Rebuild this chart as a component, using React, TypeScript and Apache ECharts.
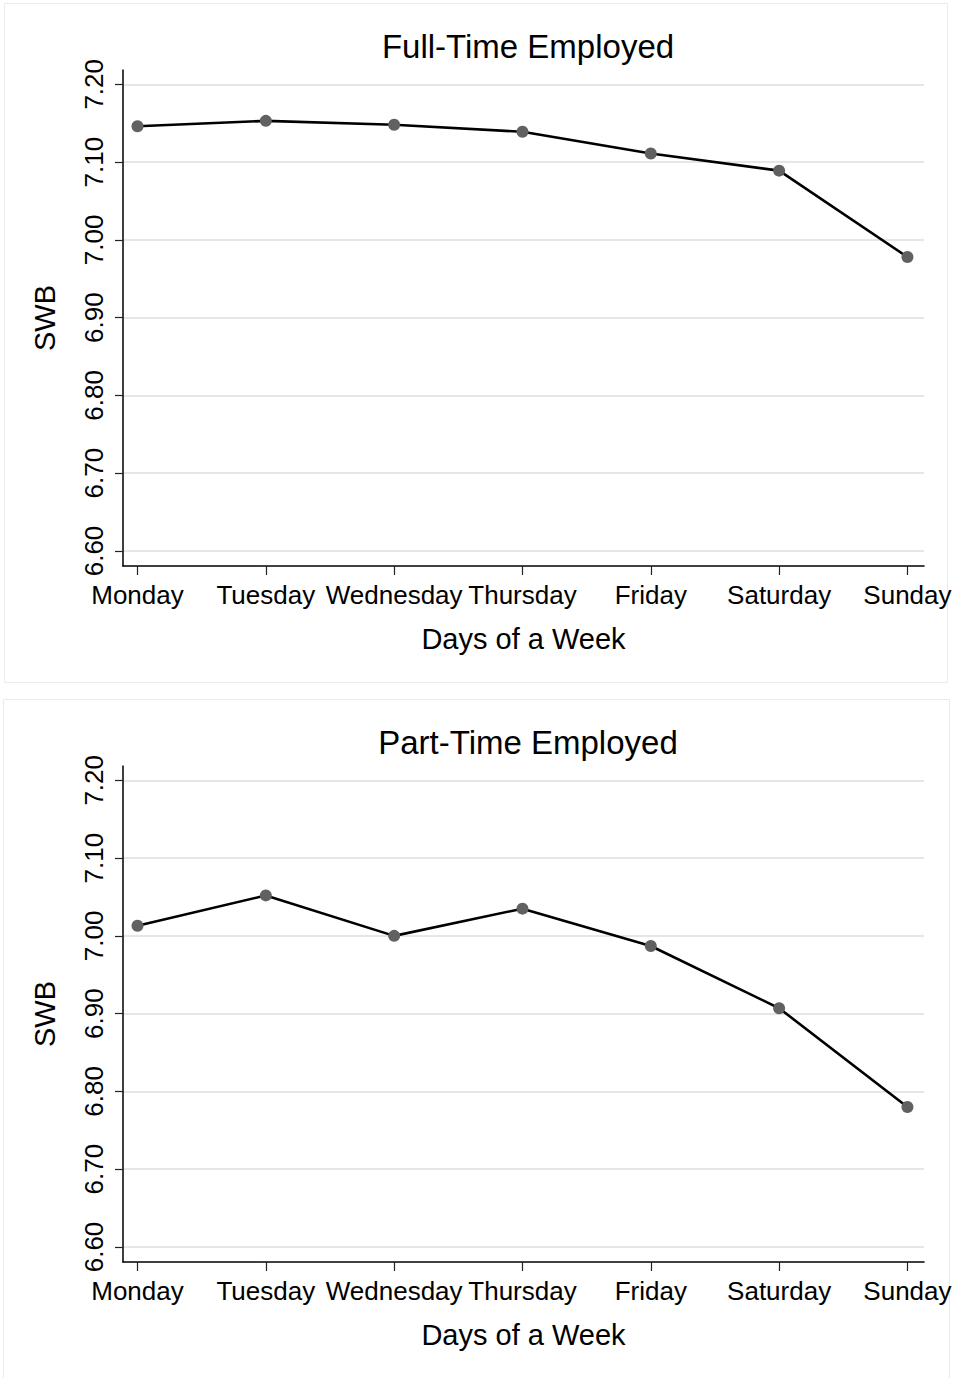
import React, { useEffect, useRef } from "react";
import * as echarts from "echarts";

const days = ["Monday", "Tuesday", "Wednesday", "Thursday", "Friday", "Saturday", "Sunday"];
const dayIndex = [0, 1, 2, 3, 4, 5, 6];
const fullTimeSWB = [7.146, 7.153, 7.148, 7.139, 7.111, 7.089, 6.978];
const partTimeSWB = [7.013, 7.052, 7.0, 7.035, 6.987, 6.907, 6.78];
const yTicks = [6.6, 6.7, 6.8, 6.9, 7.0, 7.1, 7.2];
const panelTitles = ["Full-Time Employed", "Part-Time Employed"];
const xAxisTitle = "Days of a Week";
const yAxisTitle = "SWB";

const FONT = "'Liberation Sans', Arial, Helvetica, sans-serif";

export default function App() {
  const ref = useRef<HTMLDivElement>(null);

  useEffect(() => {
    if (!ref.current) return;
    const chart = echarts.init(ref.current, null, { renderer: "svg" });

    const panelShift = 696;
    const gridLeft = 123;
    const gridTop = 70;
    const gridWidth = 801;
    const gridHeight = 496;
    const seriesList = [fullTimeSWB, partTimeSWB];

    const grids: any[] = [];
    const xAxes: any[] = [];
    const yAxes: any[] = [];
    const series: any[] = [];
    const titles: any[] = [];

    seriesList.forEach((vals, p) => {
      grids.push({
        left: gridLeft,
        top: gridTop + p * panelShift,
        width: gridWidth,
        height: gridHeight,
        containLabel: false,
      });
      xAxes.push({
        type: "value",
        gridIndex: p,
        position: "bottom",
        min: -0.113,
        max: 6.129,
        name: xAxisTitle,
        nameLocation: "middle",
        nameGap: 58,
        nameTextStyle: { fontFamily: FONT, fontSize: 29, color: "#000" },
        axisLine: { show: true, onZero: false, lineStyle: { color: "#000", width: 1.5 } },
        axisTick: {
          show: true,
          inside: false,
          length: 9,
          customValues: dayIndex,
          lineStyle: { color: "#222", width: 1.2 },
        },
        axisLabel: {
          show: true,
          inside: false,
          customValues: dayIndex,
          formatter: (v: number) => days[Math.round(v)] ?? "",
          fontFamily: FONT,
          fontSize: 26,
          color: "#000",
          margin: 16,
          hideOverlap: false,
        },
        splitLine: { show: false },
      });
      yAxes.push({
        type: "value",
        gridIndex: p,
        position: "left",
        min: 6.5807,
        max: 7.2184,
        name: yAxisTitle,
        nameLocation: "middle",
        nameRotate: 90,
        nameGap: 64,
        nameTextStyle: { fontFamily: FONT, fontSize: 29, color: "#000" },
        axisLine: { show: true, onZero: false, lineStyle: { color: "#000", width: 1.5 } },
        axisTick: {
          show: true,
          inside: false,
          length: 8,
          customValues: yTicks,
          lineStyle: { color: "#222", width: 1.2 },
        },
        axisLabel: {
          show: true,
          inside: false,
          customValues: yTicks,
          rotate: 90,
          formatter: (v: number) => v.toFixed(2),
          fontFamily: FONT,
          fontSize: 26,
          color: "#000",
          margin: 16,
        },
        splitLine: { show: true, lineStyle: { color: "#e6e6e6", width: 2 } },
      });
      series.push({
        type: "line",
        xAxisIndex: p,
        yAxisIndex: p,
        data: dayIndex.map((i) => [i, vals[i]]),
        symbol: "circle",
        symbolSize: 12,
        lineStyle: { color: "#000", width: 2.6 },
        itemStyle: { color: "#616161", borderWidth: 0 },
        z: 3,
      });
      titles.push({
        text: panelTitles[p],
        left: 523,
        top: 25 + p * panelShift,
        textAlign: "center",
        textStyle: { fontFamily: FONT, fontSize: 33, fontWeight: "normal", color: "#000" },
      });
    });

    chart.setOption({
      animation: false,
      backgroundColor: "#fff",
      title: titles,
      grid: grids,
      xAxis: xAxes,
      yAxis: yAxes,
      series,
      graphic: [
        {
          type: "rect",
          shape: { x: 4.5, y: 3.5, width: 943, height: 679 },
          style: { fill: "none", stroke: "#ebebeb", lineWidth: 1 },
          silent: true,
        },
        {
          type: "rect",
          shape: { x: 3.5, y: 699.5, width: 946, height: 700 },
          style: { fill: "none", stroke: "#ebebeb", lineWidth: 1 },
          silent: true,
        },
      ],
    });

    return () => chart.dispose();
  }, []);

  return (
    <div
      ref={ref}
      style={{ position: "absolute", left: 0, top: 0, width: 956, height: 1378, background: "#fff" }}
    />
  );
}
